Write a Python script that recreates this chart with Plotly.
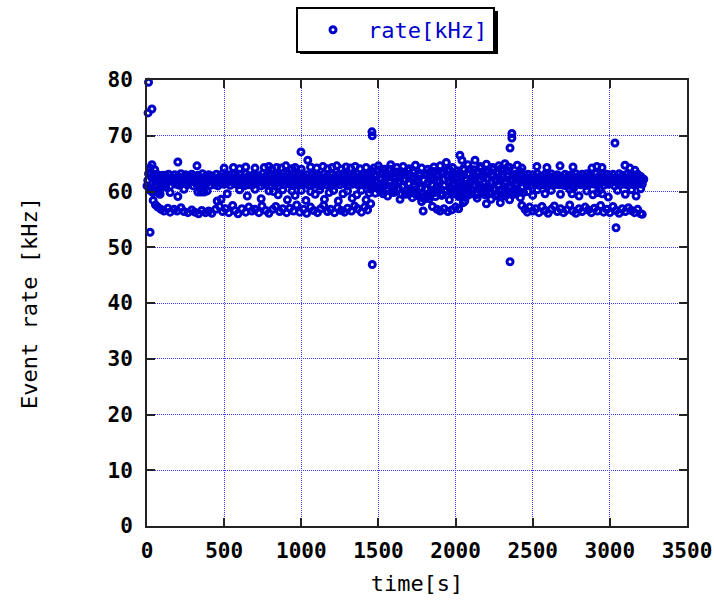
import plotly.graph_objects as go

# ---- data ----
time_main = [
    0, 10, 20, 30, 40, 50, 60, 70, 80, 90, 100, 110, 120, 130, 140, 150, 160, 170, 180, 190,
    200, 210, 220, 230, 240, 250, 260, 270, 280, 290, 300, 310, 320, 330, 340, 350, 360, 370, 380, 390,
    400, 410, 420, 430, 440, 450, 460, 470, 480, 490, 500, 510, 520, 530, 540, 550, 560, 570, 580, 590,
    600, 610, 620, 630, 640, 650, 660, 670, 680, 690, 700, 710, 720, 730, 740, 750, 760, 770, 780, 790,
    800, 810, 820, 830, 840, 850, 860, 870, 880, 890, 900, 910, 920, 930, 940, 950, 960, 970, 980, 990,
    1000, 1010, 1020, 1030, 1040, 1050, 1060, 1070, 1080, 1090, 1100, 1110, 1120, 1130, 1140, 1150, 1160, 1170, 1180, 1190,
    1200, 1210, 1220, 1230, 1240, 1250, 1260, 1270, 1280, 1290, 1300, 1310, 1320, 1330, 1340, 1350, 1360, 1370, 1380, 1390,
    1400, 1410, 1420, 1430, 1440, 1450, 1460, 1470, 1480, 1490, 1500, 1510, 1520, 1530, 1540, 1550, 1560, 1570, 1580, 1590,
    1600, 1610, 1620, 1630, 1640, 1650, 1660, 1670, 1680, 1690, 1700, 1710, 1720, 1730, 1740, 1750, 1760, 1770, 1780, 1790,
    1800, 1810, 1820, 1830, 1840, 1850, 1860, 1870, 1880, 1890, 1900, 1910, 1920, 1930, 1940, 1950, 1960, 1970, 1980, 1990,
    2000, 2010, 2020, 2030, 2040, 2050, 2060, 2070, 2080, 2090, 2100, 2110, 2120, 2130, 2140, 2150, 2160, 2170, 2180, 2190,
    2200, 2210, 2220, 2230, 2240, 2250, 2260, 2270, 2280, 2290, 2300, 2310, 2320, 2330, 2340, 2350, 2360, 2370, 2380, 2390,
    2400, 2410, 2420, 2430, 2440, 2450, 2460, 2470, 2480, 2490, 2500, 2510, 2520, 2530, 2540, 2550, 2560, 2570, 2580, 2590,
    2600, 2610, 2620, 2630, 2640, 2650, 2660, 2670, 2680, 2690, 2700, 2710, 2720, 2730, 2740, 2750, 2760, 2770, 2780, 2790,
    2800, 2810, 2820, 2830, 2840, 2850, 2860, 2870, 2880, 2890, 2900, 2910, 2920, 2930, 2940, 2950, 2960, 2970, 2980, 2990,
    3000, 3010, 3020, 3030, 3040, 3050, 3060, 3070, 3080, 3090, 3100, 3110, 3120, 3130, 3140, 3150, 3160, 3170, 3180, 3190,
    3200, 3210, 3220,
]
rate_main = [
    61.0, 63.2, 60.2, 62.5, 59.8, 63.0, 60.8, 62.2, 59.6, 61.8, 62.9, 61.2, 62.9, 61.6, 63.1, 61.0, 62.5, 61.8, 63.0, 61.3,
    62.7, 61.1, 63.2, 61.5, 62.4, 63.0, 61.2, 62.8, 61.7, 63.1, 61.0, 62.6, 61.4, 62.9, 61.9, 61.2, 63.2, 61.3, 62.7, 61.6,
    63.0, 61.1, 62.8, 61.8, 61.2, 63.1, 61.0, 62.6, 61.5, 63.2, 61.3, 62.9, 61.6, 63.0, 61.1, 62.4, 63.1, 61.4, 62.7, 61.2,
    63.1, 61.3, 62.5, 61.0, 63.2, 61.2, 62.8, 61.7, 61.1, 63.0, 61.4, 62.9, 61.8, 62.6, 61.0, 63.2, 61.3, 62.7, 61.5, 63.0,
    61.1, 63.1, 62.4, 61.3, 63.0, 61.0, 62.8, 61.6, 63.2, 61.2, 62.5, 63.1, 61.4, 62.7, 61.1, 63.0, 61.8, 61.2, 62.9, 61.5,
    63.2, 61.2, 62.6, 61.4, 63.0, 61.1, 62.4, 63.1, 61.3, 62.8, 61.6, 63.0, 61.0, 62.5, 61.7, 63.2, 61.2, 62.9, 61.8, 61.3,
    63.1, 61.1, 62.7, 61.6, 63.0, 61.2, 62.5, 63.2, 61.4, 62.8, 61.0, 63.0, 61.9, 61.3, 62.9, 61.5, 63.2, 61.1, 62.6, 61.4,
    63.0, 61.2, 62.7, 61.6, 63.1, 60.4, 63.6, 61.2, 59.7, 62.9, 63.9, 60.8, 62.4, 59.6, 61.7, 63.3, 60.2, 62.6, 64.0, 61.0,
    59.8, 62.7, 63.5, 60.6, 61.9, 59.5, 63.1, 62.2, 60.1, 63.8, 61.4, 59.7, 62.5, 63.4, 60.3, 61.8, 59.2, 62.9, 60.7, 58.8,
    63.2, 59.4, 61.6, 58.7, 62.4, 60.0, 63.6, 59.1, 61.9, 62.8, 60.4, 59.6, 63.3, 61.1, 60.2, 62.6, 63.9, 59.9, 61.5, 62.9,
    60.3, 63.7, 61.4, 59.5, 62.8, 64.1, 60.6, 62.0, 59.3, 63.2, 61.7, 60.1, 63.9, 62.4, 59.7, 61.2, 64.2, 60.8, 62.6, 59.4,
    63.5, 61.0, 59.9, 62.9, 64.0, 60.5, 61.8, 59.2, 63.4, 62.2, 60.3, 63.8, 61.5, 59.6, 62.7, 64.3, 60.9, 61.9, 59.5, 63.1,
    61.3, 60.0, 63.6, 62.1, 59.8, 62.8, 61.2, 63.1, 61.6, 61.1, 63.0, 62.4, 61.3, 63.2, 61.1, 62.7, 61.8, 61.2, 63.1, 61.0,
    62.9, 61.4, 63.2, 61.1, 62.6, 61.3, 63.0, 61.2, 62.7, 61.8, 61.1, 63.1, 61.0, 62.8, 61.6, 63.0, 61.0, 62.5, 63.2, 61.4,
    62.7, 61.2, 63.1, 61.7, 61.2, 63.2, 61.1, 62.9, 61.6, 62.5, 61.3, 63.2, 61.2, 62.7, 61.5, 63.0, 61.1, 62.4, 63.1, 61.3,
    62.8, 61.6, 63.1, 61.0, 62.5, 61.5, 63.2, 61.2, 62.9, 61.8, 61.3, 63.1, 61.1, 62.7, 61.6, 63.0, 61.2, 62.5, 63.1, 61.5,
    62.7, 61.3, 62.2,
]

time_main2 = [
    5, 15, 25, 35, 45, 55, 65, 75, 85, 95, 105, 115, 125, 135, 145, 155, 165, 175, 185, 195,
    205, 215, 225, 235, 245, 255, 265, 275, 285, 295, 305, 315, 325, 335, 345, 355, 365, 375, 385, 395,
    405, 415, 425, 435, 445, 455, 465, 475, 485, 495, 505, 515, 525, 535, 545, 555, 565, 575, 585, 595,
    605, 615, 625, 635, 645, 655, 665, 675, 685, 695, 705, 715, 725, 735, 745, 755, 765, 775, 785, 795,
    805, 815, 825, 835, 845, 855, 865, 875, 885, 895, 905, 915, 925, 935, 945, 955, 965, 975, 985, 995,
    1005, 1015, 1025, 1035, 1045, 1055, 1065, 1075, 1085, 1095, 1105, 1115, 1125, 1135, 1145, 1155, 1165, 1175, 1185, 1195,
    1205, 1215, 1225, 1235, 1245, 1255, 1265, 1275, 1285, 1295, 1305, 1315, 1325, 1335, 1345, 1355, 1365, 1375, 1385, 1395,
    1405, 1415, 1425, 1435, 1445, 1455, 1465, 1475, 1485, 1495, 1505, 1515, 1525, 1535, 1545, 1555, 1565, 1575, 1585, 1595,
    1605, 1615, 1625, 1635, 1645, 1655, 1665, 1675, 1685, 1695, 1705, 1715, 1725, 1735, 1745, 1755, 1765, 1775, 1785, 1795,
    1805, 1815, 1825, 1835, 1845, 1855, 1865, 1875, 1885, 1895, 1905, 1915, 1925, 1935, 1945, 1955, 1965, 1975, 1985, 1995,
    2005, 2015, 2025, 2035, 2045, 2055, 2065, 2075, 2085, 2095, 2105, 2115, 2125, 2135, 2145, 2155, 2165, 2175, 2185, 2195,
    2205, 2215, 2225, 2235, 2245, 2255, 2265, 2275, 2285, 2295, 2305, 2315, 2325, 2335, 2345, 2355, 2365, 2375, 2385, 2395,
    2405, 2415, 2425, 2435, 2445, 2455, 2465, 2475, 2485, 2495, 2505, 2515, 2525, 2535, 2545, 2555, 2565, 2575, 2585, 2595,
    2605, 2615, 2625, 2635, 2645, 2655, 2665, 2675, 2685, 2695, 2705, 2715, 2725, 2735, 2745, 2755, 2765, 2775, 2785, 2795,
    2805, 2815, 2825, 2835, 2845, 2855, 2865, 2875, 2885, 2895, 2905, 2915, 2925, 2935, 2945, 2955, 2965, 2975, 2985, 2995,
    3005, 3015, 3025, 3035, 3045, 3055, 3065, 3075, 3085, 3095, 3105, 3115, 3125, 3135, 3145, 3155, 3165, 3175, 3185, 3195,
    3205, 3215,
]
rate_main2 = [
    62.0, 60.5, 63.4, 59.9, 62.7, 61.3, 63.1, 60.0, 62.4, 61.2, 62.0, 62.2, 61.8, 62.1, 61.9, 62.3, 62.0, 61.7, 62.2, 61.9,
    62.1, 61.8, 62.3, 62.0, 61.9, 62.2, 61.7, 62.1, 62.4, 61.9, 62.0, 62.3, 61.8, 62.1, 61.9, 62.2, 62.0, 61.8, 62.3, 62.1,
    61.9, 62.2, 62.0, 61.7, 62.3, 62.1, 61.9, 62.4, 62.0, 61.8, 62.2, 61.9, 62.1, 62.3, 61.8, 62.0, 62.2, 61.9, 62.1, 62.0,
    62.2, 61.8, 62.1, 62.3, 61.9, 62.0, 62.2, 61.7, 62.1, 62.4, 61.9, 62.0, 62.3, 61.8, 62.1, 62.2, 61.9, 62.0, 62.3, 61.8,
    62.1, 61.9, 62.2, 62.0, 61.8, 62.3, 62.1, 61.9, 62.0, 62.4, 61.8, 62.1, 62.2, 61.9, 62.0, 62.3, 61.7, 62.1, 62.2, 61.9,
    62.0, 62.2, 61.8, 62.1, 62.3, 61.9, 62.0, 62.2, 61.8, 62.1, 62.4, 61.9, 62.0, 62.2, 61.7, 62.1, 62.3, 61.9, 62.0, 62.2,
    61.8, 62.1, 62.3, 61.9, 62.0, 62.2, 61.8, 62.1, 62.4, 61.9, 62.0, 62.3, 61.8, 62.1, 62.2, 61.9, 62.0, 62.3, 61.7, 62.1,
    62.2, 61.9, 62.0, 62.3, 61.8, 62.3, 60.9, 63.0, 61.6, 63.7, 60.3, 62.1, 63.4, 61.1, 62.8, 60.6, 63.9, 61.9, 59.9, 62.6,
    61.3, 63.3, 60.4, 62.5, 63.6, 60.9, 62.0, 59.6, 63.0, 61.5, 62.9, 60.2, 63.7, 61.0, 59.4, 62.3, 63.2, 60.6, 59.0, 62.0,
    60.5, 62.9, 59.2, 63.5, 61.3, 62.1, 59.8, 63.0, 60.7, 61.8, 63.4, 59.4, 62.2, 60.0, 63.8, 61.6, 60.4, 62.7, 59.6, 61.2,
    62.6, 59.9, 63.3, 61.0, 60.6, 63.9, 62.3, 59.6, 61.5, 64.0, 60.2, 62.9, 61.2, 59.4, 63.6, 62.1, 60.5, 63.2, 61.4, 59.8,
    62.4, 63.8, 60.6, 61.6, 62.9, 59.3, 63.4, 61.1, 60.2, 64.1, 62.6, 59.8, 61.9, 63.7, 60.8, 62.2, 59.5, 63.0, 61.3, 60.4,
    62.7, 59.9, 63.1, 60.8, 62.0, 62.0, 62.2, 61.8, 62.1, 61.9, 62.3, 62.0, 61.7, 62.2, 61.9, 62.1, 62.0, 62.3, 61.8, 62.1,
    61.9, 62.2, 62.0, 61.8, 62.3, 62.1, 61.9, 62.4, 62.0, 61.8, 62.2, 61.9, 62.1, 62.3, 61.8, 62.0, 62.2, 61.9, 62.1, 62.0,
    62.2, 61.8, 62.1, 62.3, 61.9, 62.0, 62.2, 61.7, 62.1, 62.4, 61.9, 62.0, 62.3, 61.8, 62.1, 62.2, 61.9, 62.0, 62.3, 61.8,
    62.1, 61.9, 62.2, 62.0, 61.8, 62.3, 62.1, 61.9, 62.0, 62.4, 61.8, 62.1, 62.2, 61.9, 62.0, 62.3, 61.7, 62.1, 62.2, 61.9,
    62.1, 62.0,
]

time_low = [
    40, 55, 70, 90, 110, 135, 150, 175, 195, 220, 240, 265, 290, 310, 335, 355, 380, 400, 420, 445,
    470, 490, 510, 530, 555, 570, 590, 615, 640, 660, 680, 700, 725, 745, 770, 790, 815, 835, 860, 880,
    905, 925, 950, 970, 990, 1015, 1035, 1060, 1080, 1105, 1125, 1145, 1170, 1190, 1215, 1235, 1260, 1280, 1300, 1325,
    1345, 1365, 1390, 1410, 1430, 1450,
    1790, 1850, 1880, 1900, 1925, 1950, 1975, 2000, 2020, 2050,
    2430, 2450, 2465, 2480, 2500, 2520, 2540, 2560, 2580, 2600, 2620, 2640, 2660, 2680, 2700, 2720, 2740, 2760, 2780, 2800,
    2820, 2840, 2860, 2880, 2900, 2920, 2940, 2960, 2980, 3000, 3020, 3040, 3060, 3080, 3100, 3120, 3140, 3160, 3180, 3200, 3210,
]
rate_low = [
    58.4, 57.6, 57.2, 56.8, 56.5, 57.0, 56.3, 56.8, 56.5, 57.1, 56.4, 56.2, 56.7, 56.3, 56.0, 56.6, 56.2, 56.5, 56.1, 56.8,
    57.3, 56.4, 56.9, 56.2, 57.5, 56.6, 56.0, 56.9, 56.3, 57.2, 56.5, 56.8, 56.2, 57.4, 56.6, 56.1, 56.8, 57.3, 56.4, 56.9,
    56.2, 57.0, 56.5, 57.6, 56.3, 56.8, 56.1, 57.2, 56.6, 56.2, 56.9, 57.5, 56.4, 56.8, 56.2, 57.1, 56.6, 56.3, 57.0, 56.5,
    57.4, 56.9, 56.3, 57.2, 56.7, 57.8,
    56.5, 57.3, 56.8, 56.5, 56.9, 56.4, 56.7, 57.2, 56.9, 58.0,
    57.5, 56.8, 56.3, 57.2, 56.5, 56.9, 56.2, 57.3, 56.6, 56.1, 56.8, 57.4, 56.4, 56.9, 56.2, 56.7, 57.6, 56.5, 56.1, 56.9,
    56.4, 57.2, 56.7, 56.2, 57.0, 56.5, 57.5, 56.3, 56.8, 56.2, 57.3, 56.6, 56.1, 56.9, 56.4, 57.1, 56.6, 56.2, 56.8, 56.0, 55.9,
]

time_mid = [
    60, 85, 120, 150, 200, 240, 330, 350, 370, 390, 455, 480, 520, 600, 650, 700, 740, 790, 820, 850,
    880, 910, 940, 960, 1000, 1030, 1060, 1090, 1120, 1150, 1180, 1210, 1240, 1270, 1300, 1330, 1360, 1390, 1420, 1440,
    1520, 1560, 1600, 1640, 1680, 1720, 1750, 1780, 1800, 1830, 1870, 1910, 1960, 2020, 2060, 2100, 2140, 2180, 2200, 2230,
    2260, 2290, 2320, 2350, 2390, 2420,
    2470, 2500, 2530, 2580, 2620, 2680, 2740, 2755, 2765, 2800, 2850, 2890, 2920, 2935, 2950, 2990, 3050, 3100, 3140, 3170, 3200,
]
rate_mid = [
    60.2, 59.5, 60.8, 59.8, 59.1, 60.4, 59.9, 59.9, 59.9, 60.1, 58.3, 58.6, 59.6, 60.3, 59.2, 60.4, 58.7, 60.1, 60.0, 59.4,
    60.3, 58.5, 60.1, 59.3, 60.2, 58.4, 60.0, 59.5, 60.3, 58.6, 59.8, 60.2, 58.3, 59.6, 60.1, 58.8, 59.4, 60.2, 58.5, 59.7,
    60.1, 59.2, 60.3, 58.6, 59.5, 58.9, 59.8, 58.2, 58.7, 59.5, 60.0, 59.3, 58.5, 59.1, 58.3, 59.6, 58.8, 60.2, 57.8, 58.6,
    59.4, 58.0, 59.2, 58.5, 59.8, 58.9,
    60.0, 59.3, 60.3, 59.6, 60.2, 59.5, 60.4, 59.6, 60.6, 59.2, 60.1, 59.4, 59.8, 60.3, 59.6, 59.0, 60.2, 59.5, 60.3, 59.2, 60.5,
]

time_high = [
    20, 32, 50, 200, 324, 500, 560, 600, 640, 700, 760, 790, 810, 840, 870, 900, 940, 960, 1000, 1042,
    1060, 1100, 1140, 1170, 1200, 1230, 1260, 1290, 1320, 1350, 1380, 1420,
    1470, 1500, 1540, 1580, 1620, 1660, 1700, 1740, 1780, 1820, 1860, 1900, 1940, 1980, 2028, 2041, 2080, 2126,
    2160, 2200, 2240, 2280, 2320, 2340, 2400, 2430,
    2527, 2592, 2677, 2761, 2884, 2916, 2949, 3098, 3130, 3163,
]
rate_high = [
    64.2, 64.8, 63.9, 65.3, 64.6, 64.2, 64.3, 64.1, 64.4, 64.2, 64.3, 64.5, 64.0, 64.3, 64.2, 64.6, 64.1, 64.3, 64.0, 65.6,
    64.4, 64.2, 64.5, 64.1, 64.3, 64.6, 64.0, 64.4, 64.2, 64.5, 64.1, 64.3,
    64.2, 64.6, 64.0, 64.8, 64.3, 64.5, 64.1, 64.7, 64.2, 64.0, 64.4, 64.6, 65.2, 64.3, 66.5, 65.6, 64.8, 65.6,
    64.5, 64.9, 64.3, 64.6, 65.0, 64.4, 64.7, 64.2,
    64.5, 64.3, 64.6, 64.4, 64.2, 64.5, 64.3, 64.7, 64.2, 63.8,
]

time_out = [10, 7, 32, 20, 998, 1458, 1460, 1460, 2365, 2365, 2353, 2353, 3033, 3040]
rate_out = [79.6, 74.1, 74.8, 52.7, 67.1, 70.7, 70.0, 46.9, 70.4, 69.6, 67.8, 47.4, 68.7, 53.5]

x_ticks = [0, 500, 1000, 1500, 2000, 2500, 3000, 3500]
y_ticks = [0, 10, 20, 30, 40, 50, 60, 70, 80]

series_name = "rate[kHz]"
x_title = "time[s]"
y_title = "Event rate [kHz]"

# ---- figure ----
xs = time_main + time_main2 + time_low + time_mid + time_high + time_out
ys = rate_main + rate_main2 + rate_low + rate_mid + rate_high + rate_out

BLUE = "#0000CC"
MONO_FONT = "DejaVu Sans Mono, Liberation Mono, monospace"
TICK_FONT = dict(family=MONO_FONT, size=21, color="black", weight="bold")

fig = go.Figure()
fig.add_trace(go.Scatter(
    x=xs, y=ys, mode="markers", name=series_name, cliponaxis=False,
    marker=dict(symbol="circle-open", size=6, color=BLUE, opacity=1,
                line=dict(width=3, color=BLUE)),
))

axis_common = dict(
    showline=True, linecolor="#222222", linewidth=2, mirror="ticks",
    ticks="inside", ticklen=8, tickwidth=2, tickcolor="#222222",
    showgrid=True, gridcolor="#3a3aff", gridwidth=1, griddash="1px,1px",
    zeroline=False, tickfont=TICK_FONT,
)

fig.update_xaxes(range=[0, 3500], tickvals=x_ticks, ticktext=[str(v) for v in x_ticks],
                 title=dict(text=x_title, font=dict(family=MONO_FONT, size=22, color="black"), standoff=13),
                 ticklabelstandoff=5, **axis_common)
fig.update_yaxes(range=[0, 80], tickvals=y_ticks, ticktext=[str(v) for v in y_ticks],
                 title=dict(text=y_title, font=dict(family=MONO_FONT, size=22, color="black"), standoff=64),
                 ticklabelstandoff=8, **axis_common)

# legend shadow (black box offset behind the legend)
lx0 = (296 - 147) / 540
ly1 = (526 - 7) / 446
sh_x0, sh_x1 = (300 - 147) / 540, (498 - 147) / 540
sh_y1, sh_y0 = (526 - 11) / 446, (526 - 54) / 446
fig.add_shape(type="rect", xref="paper", yref="paper",
              x0=sh_x0, x1=sh_x1, y0=sh_y0, y1=sh_y1,
              fillcolor="black", line=dict(width=0), layer="below")

fig.update_layout(
    width=714, height=602,
    margin=dict(l=147, r=27, t=80, b=76, autoexpand=False),
    paper_bgcolor="white", plot_bgcolor="white",
    showlegend=True,
    legend=dict(x=lx0, y=ly1, xanchor="left", yanchor="top", orientation="h",
                bgcolor="white", bordercolor="black", borderwidth=2,
                font=dict(family=MONO_FONT, size=22, color=BLUE), itemwidth=60),
)

fig.write_html("out.html")
